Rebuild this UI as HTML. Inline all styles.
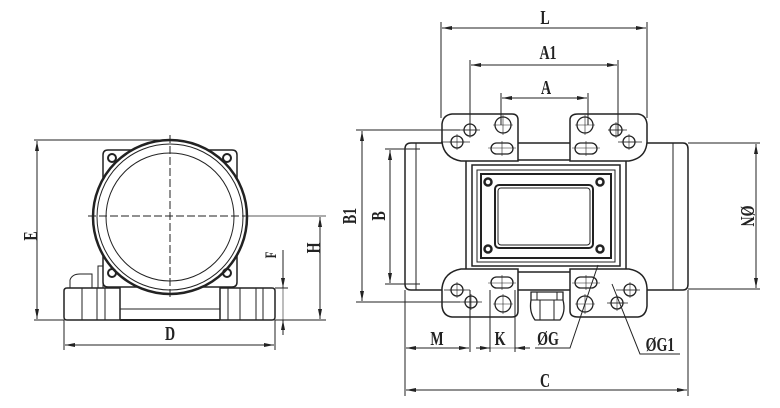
<!DOCTYPE html>
<html><head><meta charset="utf-8"><style>
html,body{margin:0;padding:0;background:#fff;}
svg{display:block;}
text{font-family:"Liberation Serif",serif;font-weight:bold;font-size:20px;fill:#222;}
</style></head><body>
<svg width="780" height="408" viewBox="0 0 780 408" xmlns="http://www.w3.org/2000/svg">
<defs>
<marker id="a" viewBox="0 0 10 4" refX="10" refY="2" markerWidth="10" markerHeight="4" orient="auto-start-reverse" markerUnits="userSpaceOnUse"><path d="M0,0 L10,2 L0,4z" fill="#222"/></marker>
</defs>
<g stroke="#222" fill="none" stroke-width="1">
<!-- LEFT VIEW -->
<path d="M108,150 H232 Q237,150 237,155 V282 Q237,287 232,287 H108 Q103,287 103,282 V155 Q103,150 108,150Z" stroke-width="1.5"/>
<circle cx="170" cy="217" r="77" stroke-width="2.5" fill="#fff"/>
<circle cx="170" cy="217" r="73"/>
<circle cx="170" cy="217" r="64"/>
<g stroke-width="2"><circle cx="112" cy="158" r="4"/><circle cx="227" cy="158" r="4"/><circle cx="112" cy="273" r="4"/><circle cx="227" cy="273" r="4"/></g>
<path d="M170,135 V300 M88,216 H245" stroke-dasharray="8,3"/>
<path d="M245,216 H326" stroke-width="0.8"/>
<path d="M67,288 H120 V320 H67 Q64,320 64,317 V291 Q64,288 67,288Z" stroke-width="1.5" fill="#fff"/>
<path d="M82,288 V320 M97,288 V320 M105,288 V320 M70,288 V280 Q72,274 80,274 H92 V288 M98,288 V266 H103 V288"/>
<path d="M220,288 H272 Q275,288 275,291 V317 Q275,320 272,320 H220Z" stroke-width="1.5" fill="#fff"/>
<path d="M228,288 V320 M240,288 V320 M256,288 V320 M263,288 V320"/>
<path d="M120,320 H220" stroke-width="2"/>
<path d="M120,309 H220"/>
<path d="M34,140 H170 M34,320 H64"/>
<path d="M37,141 V319" marker-start="url(#a)" marker-end="url(#a)"/>
<path d="M320,217 V319" marker-start="url(#a)" marker-end="url(#a)"/>
<path d="M275,320 H326 M275,288 H288"/>
<path d="M283,250 V288" marker-end="url(#a)"/>
<path d="M283,335 V320" marker-end="url(#a)"/>
<path d="M283,288 V320" stroke-width="0.6"/>
<path d="M64,320 V350 M275,320 V350"/>
<path d="M65,345 H274" marker-start="url(#a)" marker-end="url(#a)"/>

<!-- RIGHT VIEW -->
<path d="M411,143 H683 Q688,143 688,149 V284 Q688,290 683,290 H411 Q405,290 405,284 V149 Q405,143 411,143Z" stroke-width="1.5"/>
<path d="M416,143 V290 M673,143 V290"/>
<rect x="466" y="160" width="160" height="112" fill="#fff" stroke-width="1.5"/>
<rect x="472" y="165" width="148" height="101" stroke-width="1.5"/>
<rect x="477" y="170" width="138" height="92"/>
<rect x="481" y="174" width="130" height="84" stroke-width="2"/>
<rect x="495" y="185" width="98" height="63" rx="4" stroke-width="2"/>
<rect x="498" y="188" width="92" height="57" rx="3"/>
<g stroke-width="2.5"><circle cx="488" cy="182" r="3.5"/><circle cx="600" cy="182" r="3.5"/><circle cx="488" cy="249" r="3.5"/><circle cx="600" cy="249" r="3.5"/></g>
<g fill="#fff" stroke-width="1.5">
<path d="M452,114 H512 Q518,114 518,120 V161 H461 Q444,158 442,142 V124 Q443,115 452,114Z"/>
<path d="M638,114 H578 Q570,114 570,120 V161 H629 Q646,158 647,142 V124 Q646,115 638,114Z"/>
<path d="M452,317 H512 Q518,317 518,311 V269 H461 Q444,272 442,288 V306 Q443,316 452,317Z"/>
<path d="M638,317 H578 Q570,317 570,311 V269 H629 Q646,272 647,288 V306 Q646,316 638,317Z"/>
</g>
<g stroke-width="1.3">
<circle cx="457" cy="142" r="6"/><circle cx="470" cy="130" r="6"/><circle cx="503" cy="125" r="8"/><rect x="491" y="143" width="22" height="11" rx="5.5"/>
<circle cx="629" cy="142" r="6"/><circle cx="616" cy="130" r="6"/><circle cx="585" cy="125" r="8"/><rect x="575" y="143" width="22" height="11" rx="5.5"/>
<circle cx="457" cy="290" r="6"/><circle cx="471" cy="302" r="6"/><circle cx="503" cy="304" r="8"/><rect x="491" y="277" width="22" height="11" rx="5.5"/>
<circle cx="630" cy="290" r="6"/><circle cx="617" cy="303" r="6"/><circle cx="585" cy="304" r="8"/><rect x="575" y="277" width="22" height="11" rx="5.5"/>
</g>
<g stroke-width="0.6">
<path d="M449,142 H465 M457,134 V150 M462,130 H478 M470,122 V138 M493,125 H513 M503,115 V135 M488,148 H516 M502,141 V156"/>
<path d="M621,142 H637 M629,134 V150 M608,130 H624 M616,122 V138 M575,125 H595 M585,115 V135 M572,148 H600 M586,141 V156"/>
<path d="M449,290 H465 M457,282 V298 M463,302 H479 M471,294 V310 M493,304 H513 M503,294 V314 M488,283 H516 M502,275 V290"/>
<path d="M622,290 H638 M630,282 V298 M609,303 H625 M617,295 V311 M575,304 H595 M585,294 V314 M572,283 H600 M586,275 V290"/>
</g>
<path d="M531,292 H563 V300 Q566,312 560,320 H535 Q529,312 531,300Z" fill="#fff" stroke-width="1.3"/>
<path d="M531,300 H563 M540,300 V320 M554,300 V320 M537,292 V300 M557,292 V300"/>
<g stroke-width="0.7">
<path d="M441,142 H470 M451,130 H480 M444,290 H470 M460,302 H482 M616,290 H640 M607,303 H628 M618,142 H642 M608,130 H627"/>
</g>
<path d="M441,22 V118 M647,22 V118 M470,60 V135 M618,60 V135 M501,93 V125 M588,93 V125"/>
<path d="M442,28 H646" marker-start="url(#a)" marker-end="url(#a)"/>
<path d="M471,65 H617" marker-start="url(#a)" marker-end="url(#a)"/>
<path d="M502,98 H587" marker-start="url(#a)" marker-end="url(#a)"/>
<path d="M356,130 H460 M356,302 H460 M385,149 H420 M385,284 H420"/>
<path d="M362,131 V301" marker-start="url(#a)" marker-end="url(#a)"/>
<path d="M390,150 V283" marker-start="url(#a)" marker-end="url(#a)"/>
<path d="M688,143 H760 M688,289 H760"/>
<path d="M756,144 V288" marker-start="url(#a)" marker-end="url(#a)"/>
<path d="M405,290 V396 M688,290 V396 M470,290 V352 M490,290 V352 M515,290 V352"/>
<path d="M406,348 H469" marker-start="url(#a)" marker-end="url(#a)"/>
<path d="M476,348 H490" marker-end="url(#a)"/>
<path d="M530,348 H515" marker-end="url(#a)"/>
<path d="M490,348 H515" stroke-width="0.6"/>
<path d="M406,390 H687" marker-start="url(#a)" marker-end="url(#a)"/>
<path d="M598,265 L570,348 H535"/>
<path d="M612,284 L640,354 H680"/>
</g>
<g font-weight="normal">
<text transform="translate(545,24) scale(0.7,1)" text-anchor="middle">L</text>
<text transform="translate(548,59) scale(0.7,1)" text-anchor="middle">A1</text>
<text transform="translate(546,94) scale(0.7,1)" text-anchor="middle">A</text>
<text transform="translate(548,345) scale(0.7,1)" text-anchor="middle">ØG</text>
<text transform="translate(660,351) scale(0.7,1)" text-anchor="middle">ØG1</text>
<text transform="translate(437,345) scale(0.7,1)" text-anchor="middle">M</text>
<text transform="translate(500,345) scale(0.7,1)" text-anchor="middle">K</text>
<text transform="translate(545,387) scale(0.7,1)" text-anchor="middle">C</text>
<text transform="translate(170,340) scale(0.7,1)" text-anchor="middle">D</text>
<text transform="translate(37,236) rotate(-90) scale(0.7,1)" text-anchor="middle">E</text>
<text transform="translate(320,248) rotate(-90) scale(0.7,1)" text-anchor="middle">H</text>
<text transform="translate(276,255) rotate(-90) scale(0.7,1)" text-anchor="middle" style="font-size:16px">F</text>
<text transform="translate(356,216) rotate(-90) scale(0.7,1)" text-anchor="middle">B1</text>
<text transform="translate(385,216) rotate(-90) scale(0.7,1)" text-anchor="middle">B</text>
<text transform="translate(741,216) rotate(90) scale(0.7,1)" text-anchor="middle">ØN</text>
</g>
</svg>
</body></html>
